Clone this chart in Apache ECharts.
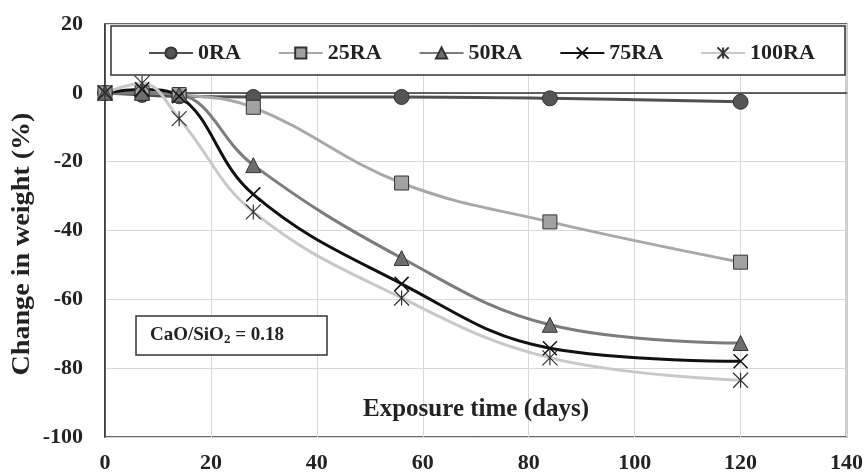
<!DOCTYPE html>
<html>
<head>
<meta charset="utf-8">
<script src="https://cdn.jsdelivr.net/npm/echarts@6/dist/echarts.min.js"></script>
<style>
  html, body { margin: 0; padding: 0; background: #fff; }
  #chart { width: 866px; height: 474px; }
</style>
</head>
<body>
<div id="chart"></div>
<script>
// exposure time (days)
var days = [0, 7, 14, 28, 56, 84, 120];
// change in weight (%)
var ra0 = [0, -0.6, -1, -1.2, -1.2, -1.6, -2.6];
var ra25 = [0, 0, -0.5, -4.2, -26.2, -37.5, -49.2];
var ra50 = [0, 0, -0.5, -21, -48, -67.4, -72.7];
var ra75 = [0, 1, -1, -29.5, -55.5, -74.2, -78];
var ra100 = [0, 2.8, -7.5, -34.6, -59.6, -77, -83.5];
var seriesNames = ['0RA', '25RA', '50RA', '75RA', '100RA'];
var xTicks = [0, 20, 40, 60, 80, 100, 120, 140];
var yTicks = [-100, -80, -60, -40, -20, 0, 20];

var font = 'Liberation Serif';

function pairs(vals) {
    return days.map(function (d, i) { return [d, vals[i]]; });
}

var chart = echarts.init(document.getElementById('chart'));

function line(name, vals, lineColor, symbol, fill, size) {
    return {
        name: name,
        type: 'line',
        data: pairs(vals),
        smooth: 0.4,
        symbol: symbol,
        symbolSize: size,
        lineStyle: { color: lineColor, width: 3 },
        itemStyle: { color: fill, borderColor: '#333', borderWidth: 1 },
        emphasis: { disabled: true }
    };
}

var option = {
    animation: false,
    backgroundColor: '#fff',
    grid: {
        left: 105, right: 19, top: 24, bottom: 37,
        show: true, borderColor: '#333', borderWidth: 1.5
    },
    legend: {
        data: seriesNames,
        left: 143,
        top: 37,
        z: 10,
        itemWidth: 44,
        itemHeight: 14,
        itemGap: 37,
        textStyle: { fontFamily: font, fontWeight: 'bold', fontSize: 22, color: '#222' }
    },
    xAxis: {
        type: 'value',
        min: xTicks[0],
        max: xTicks[xTicks.length - 1],
        interval: 20,
        axisLine: { lineStyle: { color: '#333', width: 1.5 } },
        axisTick: { show: false },
        axisLabel: { fontFamily: font, fontWeight: 'bold', fontSize: 22, color: '#222', margin: 15 },
        splitLine: { lineStyle: { color: '#d8d8d8', width: 1 } }
    },
    yAxis: {
        type: 'value',
        min: yTicks[0],
        max: yTicks[yTicks.length - 1],
        interval: 20,
        axisLine: { show: true, lineStyle: { color: '#333', width: 1.5 } },
        axisTick: { show: false },
        axisLabel: { fontFamily: font, fontWeight: 'bold', fontSize: 22, color: '#222', margin: 22 },
        splitLine: { lineStyle: { color: '#d8d8d8', width: 1 } }
    },
    graphic: [
        {
            type: 'rect', z: 5,
            shape: { x: 111, y: 26, width: 734, height: 49 },
            style: { fill: '#fff', stroke: '#333', lineWidth: 1.5 }
        },
        {
            type: 'rect', z: 5,
            shape: { x: 136, y: 316, width: 191, height: 39 },
            style: { fill: '#fff', stroke: '#333', lineWidth: 1.5 }
        },
        {
            type: 'text', z: 6, x: 150, y: 335,
            style: {
                text: '{a|CaO/SiO}{s|2}{a| = 0.18}',
                verticalAlign: 'middle',
                rich: {
                    a: { fontFamily: font, fontWeight: 'bold', fontSize: 19, fill: '#222' },
                    s: { fontFamily: font, fontWeight: 'bold', fontSize: 13, fill: '#222', padding: [9, 0, 0, 0] }
                }
            }
        },
        {
            type: 'text', z: 6, x: 476, y: 410,
            style: {
                text: 'Exposure time (days)',
                align: 'center', verticalAlign: 'middle',
                fontFamily: font, fontWeight: 'bold', fontSize: 25, fill: '#222'
            }
        },
        {
            type: 'text', z: 6, x: 22, y: 244, rotation: Math.PI / 2, scaleX: 1.08,
            style: {
                text: 'Change in weight (%)',
                align: 'center', verticalAlign: 'middle',
                fontFamily: font, fontWeight: 'bold', fontSize: 26, fill: '#222'
            }
        }
    ],
    series: [
        line('0RA', ra0, '#505050', 'circle', '#555', 15),
        line('25RA', ra25, '#a8a8a8', 'rect', '#a2a2a2', 14),
        line('50RA', ra50, '#7c7c7c', 'triangle', '#6e6e6e', 15),
        line('75RA', ra75, '#111', 'path://M0,0L10,10M10,0L0,10', '#111', 14),
        line('100RA', ra100, '#c8c8c8', 'path://M0,0L10,10M10,0L0,10M5,0L5,10', '#333', 15)
    ]
};
option.series[3].itemStyle = { color: '#111', borderColor: '#111', borderWidth: 1.5 };
option.series[4].itemStyle = { color: '#333', borderColor: '#333', borderWidth: 1.2 };

chart.setOption(option);
window.addEventListener('resize', function () { chart.resize(); });
</script>
</body>
</html>
